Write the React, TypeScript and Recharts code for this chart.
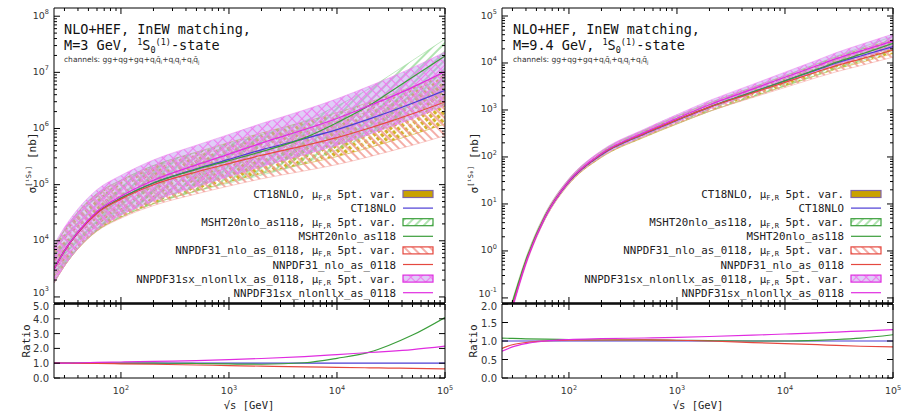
import React from 'react';
import { ComposedChart, Area, Line, XAxis, YAxis } from 'recharts';

// sqrt(s) grid in GeV, shared by both quarkonium masses
const energies = [24, 30, 40, 60, 100, 200, 500, 1000, 2000, 5000, 10000, 20000, 30000, 50000, 100000];

// ---- M = 3 GeV, sigma in nb ----
const ct18M3 = [3160, 6610, 14100, 31600, 57500, 107000, 191000, 282000, 417000, 661000, 955000, 1.48e6, 1.95e6, 2.82e6, 4.79e6];
const ct18LoM3 = [1780, 3550, 7240, 15100, 26300, 45700, 77600, 112000, 158000, 234000, 316000, 457000, 575000, 776000, 1.2e6];
const ct18HiM3 = [7590, 15500, 32400, 69200, 120000, 219000, 380000, 562000, 832000, 1.32e6, 1.91e6, 2.95e6, 3.89e6, 5.62e6, 9.55e6];

const mshtM3 = [3160, 6610, 14100, 31600, 57500, 107000, 187000, 268000, 388000, 681000, 1.27e6, 2.59e6, 4.29e6, 8.18e6, 1.96e7];
const mshtLoM3 = [1780, 3550, 7240, 15100, 26300, 45700, 76200, 107000, 148000, 242000, 421000, 800000, 1.27e6, 2.25e6, 4.92e6];
const mshtHiM3 = [7590, 15500, 32400, 69200, 120000, 219000, 373000, 535000, 774000, 1.36e6, 2.53e6, 5.17e6, 8.56e6, 1.63e7, 3.91e7];

const nnpdfM3 = [3160, 6610, 14000, 31000, 55200, 99500, 168000, 237000, 334000, 496000, 688000, 1.02e6, 1.31e6, 1.83e6, 2.97e6];
const nnpdfLoM3 = [1780, 3550, 7180, 14800, 25200, 42400, 68400, 94300, 127000, 176000, 228000, 315000, 387000, 504000, 746000];
const nnpdfHiM3 = [7580, 15500, 32100, 67800, 115000, 203000, 335000, 473000, 666000, 990000, 1.37e6, 2.03e6, 2.61e6, 3.65e6, 5.93e6];

const sxM3 = [3160, 6610, 14400, 33200, 62100, 120000, 225000, 350000, 550000, 958000, 1.51e6, 2.55e6, 3.51e6, 5.41e6, 1.03e7];
const sxLoM3 = [1780, 3550, 7380, 15900, 28400, 51200, 91600, 139000, 209000, 340000, 500000, 788000, 1.04e6, 1.49e6, 2.59e6];
const sxHiM3 = [8510, 17400, 37000, 81500, 146000, 275000, 504000, 784000, 1.23e6, 2.14e6, 3.38e6, 5.71e6, 7.86e6, 1.21e7, 2.31e7];

// ---- M = 9.4 GeV, sigma in nb ----
const ct18M94 = [0.0141, 0.0759, 0.603, 5.25, 29.5, 112, 309, 603, 1150, 2400, 4170, 7240, 10000, 14100, 22400];
const ct18LoM94 = [0.0126, 0.0676, 0.537, 4.68, 26.3, 97.6, 263, 502, 935, 1910, 3240, 5490, 7410, 10200, 15900];
const ct18HiM94 = [0.0158, 0.0852, 0.677, 5.89, 33.1, 129, 363, 725, 1410, 3020, 5370, 9540, 13500, 19500, 31700];

const mshtM94 = [0.0152, 0.0812, 0.639, 5.51, 30.7, 115, 318, 615, 1160, 2400, 4170, 7380, 10400, 15200, 26200];
const mshtLoM94 = [0.0135, 0.0724, 0.57, 4.91, 27.4, 100, 271, 512, 943, 1910, 3240, 5600, 7710, 11000, 18500];
const mshtHiM94 = [0.0171, 0.0911, 0.717, 6.18, 34.4, 132, 374, 739, 1430, 3020, 5370, 9730, 14000, 21000, 37000];

const nnpdfM94 = [0.0113, 0.0683, 0.579, 5.25, 30.1, 115, 318, 615, 1150, 2300, 3880, 6520, 8800, 12100, 18800];
const nnpdfLoM94 = [0.0101, 0.0609, 0.516, 4.68, 26.8, 100, 271, 512, 935, 1830, 3010, 4950, 6520, 8770, 13300];
const nnpdfHiM94 = [0.0127, 0.0766, 0.65, 5.89, 33.8, 132, 374, 739, 1410, 2900, 5000, 8590, 11900, 16700, 26600];

const sxM94 = [0.0102, 0.0638, 0.561, 5.25, 30.7, 119, 334, 663, 1290, 2780, 4960, 8830, 12400, 17900, 29300];
const sxLoM94 = [0.00909, 0.0569, 0.5, 4.68, 27.4, 104, 284, 552, 1050, 2210, 3850, 6700, 9190, 13000, 20700];
const sxHiM94 = [0.0114, 0.0716, 0.629, 5.89, 34.4, 137, 392, 797, 1590, 3500, 6390, 11600, 16700, 24700, 41400];

// axis ticks
const xDecades = [10, 100, 1000, 10000, 100000];
const yDecadesM3 = [1e3, 1e4, 1e5, 1e6, 1e7, 1e8];
const yDecadesM94 = [0.1, 1, 10, 100, 1000, 1e4, 1e5];
const ratioTicksM3 = [0, 1, 2, 3, 4, 5];
const ratioTicksM94 = [0, 0.5, 1, 1.5, 2];

const pdfNames = ['CT18NLO', 'MSHT20nlo_as118', 'NNPDF31_nlo_as_0118', 'NNPDF31sx_nlonllx_as_0118'];

const X_DOMAIN: [number, number] = [24, 100000];
const MONO = '"DejaVu Sans Mono", "Liberation Mono", monospace';
const SANS = '"DejaVu Sans", "Liberation Sans", sans-serif';
const TICK_MAJOR = 6;
const TICK_MINOR = 3;

const withMinors = (decades: number[], lo: number, hi: number) => {
  const out: number[] = [];
  decades.forEach((d) => {
    for (let k = 1; k <= 9; k++) {
      const v = +(d * k).toPrecision(6);
      if (v >= lo && v <= hi) out.push(v);
    }
  });
  return out;
};

interface PdfSet {
  key: string;
  central: number[];
  lo: number[];
  hi: number[];
  color: string;
  fill: string;
  edge: string;
}

const styles = [
  { key: 'ct18', color: '#4b3cd4', fill: 'url(#bandCT)', edge: '#c9a200' },
  { key: 'msht', color: '#3a9e3a', fill: 'url(#bandMSHT)', edge: '#86d486' },
  { key: 'nnpdf', color: '#e5483f', fill: 'url(#bandNNPDF)', edge: '#f29a92' },
  { key: 'sx', color: '#e02ce0', fill: 'url(#bandSX)', edge: '#ef7cef' },
];

const setsM3: PdfSet[] = [
  { ...styles[0], central: ct18M3, lo: ct18LoM3, hi: ct18HiM3 },
  { ...styles[1], central: mshtM3, lo: mshtLoM3, hi: mshtHiM3 },
  { ...styles[2], central: nnpdfM3, lo: nnpdfLoM3, hi: nnpdfHiM3 },
  { ...styles[3], central: sxM3, lo: sxLoM3, hi: sxHiM3 },
];

const setsM94: PdfSet[] = [
  { ...styles[0], central: ct18M94, lo: ct18LoM94, hi: ct18HiM94 },
  { ...styles[1], central: mshtM94, lo: mshtLoM94, hi: mshtHiM94 },
  { ...styles[2], central: nnpdfM94, lo: nnpdfLoM94, hi: nnpdfHiM94 },
  { ...styles[3], central: sxM94, lo: sxLoM94, hi: sxHiM94 },
];

const mainRows = (sets: PdfSet[]) =>
  energies.map((e, i) => {
    const row: Record<string, number | number[]> = { e };
    sets.forEach((s) => {
      row[s.key] = s.central[i];
      row[`${s.key}Band`] = [s.lo[i], s.hi[i]];
    });
    return row;
  });

// everything normalised to CT18NLO
const ratioRows = (sets: PdfSet[]) =>
  energies.map((e, i) => {
    const row: Record<string, number> = { e };
    sets.forEach((s) => {
      row[s.key] = s.central[i] / sets[0].central[i];
    });
    return row;
  });

const isDecade = (v: number) => Math.abs(Math.log10(v) - Math.round(Math.log10(v))) < 1e-6;

const Pow10 = ({ x, y, v, anchor }: { x: number; y: number; v: number; anchor: 'end' | 'middle' }) => (
  <text x={x} y={y} textAnchor={anchor} fontFamily={SANS} fontSize={9.5} fill="#333">
    10
    <tspan dy={-4.5} fontSize={6.5}>
      {Math.round(Math.log10(v))}
    </tspan>
  </text>
);

// the lowest decade label sits a little higher so it clears the ratio panel's top label
const logYTick = (side: 'left' | 'right', bottom: number) => (props: any) => {
  const { x, y, payload } = props;
  const major = isDecade(payload.value);
  const dir = side === 'left' ? 1 : -1;
  const dy = payload.value === bottom ? -1 : 2.5;
  return (
    <g>
      <line x1={x} y1={y} x2={x + dir * (major ? TICK_MAJOR : TICK_MINOR)} y2={y} stroke="#000" />
      {side === 'left' && major && <Pow10 x={x - 5} y={y + dy} v={payload.value} anchor="end" />}
    </g>
  );
};

const linYTick = (side: 'left' | 'right', top: number) => (props: any) => {
  const { x, y, payload } = props;
  const dir = side === 'left' ? 1 : -1;
  const dy = payload.value === top ? 6 : 4;
  return (
    <g>
      <line x1={x} y1={y} x2={x + dir * TICK_MAJOR} y2={y} stroke="#000" />
      {side === 'left' && (
        <text x={x - 5} y={y + dy} textAnchor="end" fontFamily={SANS} fontSize={10} fill="#333">
          {Number(payload.value).toFixed(1)}
        </text>
      )}
    </g>
  );
};

const xTick = (side: 'top' | 'bottom', labels: boolean) => (props: any) => {
  const { x, y, payload } = props;
  const major = isDecade(payload.value);
  const dir = side === 'bottom' ? -1 : 1;
  return (
    <g>
      <line x1={x} y1={y} x2={x} y2={y + dir * (major ? TICK_MAJOR : TICK_MINOR)} stroke="#000" />
      {labels && major && <Pow10 x={x} y={y + 16} v={payload.value} anchor="middle" />}
    </g>
  );
};

const xTicks = withMinors(xDecades, X_DOMAIN[0], X_DOMAIN[1]);
const frame = { stroke: '#000' };

interface PanelProps {
  left: number;
  sets: PdfSet[];
  yDomain: [number, number];
  yDecades: number[];
  ratioDomain: [number, number];
  ratioTicks: number[];
}

const Panel = ({ left, sets, yDomain, yDecades, ratioDomain, ratioTicks }: PanelProps) => {
  const yTicks = withMinors(yDecades, yDomain[0], yDomain[1]);
  const noMargin = { top: 0, right: 0, bottom: 0, left: 0 };
  const axisCommon = { tickLine: false, tickSize: 0, tickMargin: 0, interval: 0 as const, allowDataOverflow: true };
  const bottomDecade = yDecades[0];
  const topRatio = ratioTicks[ratioTicks.length - 1];
  return (
    <>
      <div style={{ position: 'absolute', left, top: 0 }}>
        <ComposedChart width={460} height={310} data={mainRows(sets)} margin={noMargin}>
          <XAxis xAxisId="b" dataKey="e" type="number" scale="log" domain={X_DOMAIN} ticks={xTicks} height={7}
            axisLine={{ stroke: '#000', strokeWidth: 1.5 }} tick={xTick('bottom', false)} {...axisCommon} />
          <XAxis xAxisId="t" orientation="top" dataKey="e" type="number" scale="log" domain={X_DOMAIN} ticks={xTicks}
            height={8} axisLine={frame} tick={xTick('top', false)} {...axisCommon} />
          <YAxis yAxisId="l" type="number" scale="log" domain={yDomain} ticks={yTicks} width={54}
            axisLine={frame} tick={logYTick('left', bottomDecade)} {...axisCommon} />
          <YAxis yAxisId="r" orientation="right" type="number" scale="log" domain={yDomain} ticks={yTicks} width={15}
            axisLine={frame} tick={logYTick('right', bottomDecade)} {...axisCommon} />
          {sets.map((s) => [
            <Area key={`${s.key}-band`} xAxisId="b" yAxisId="l" dataKey={`${s.key}Band`} type="monotone"
              fill={s.fill} fillOpacity={1} stroke={s.edge} strokeWidth={0.7} strokeOpacity={0.7}
              dot={false} activeDot={false} isAnimationActive={false} />,
            <Line key={s.key} xAxisId="b" yAxisId="l" dataKey={s.key} type="monotone" stroke={s.color}
              strokeWidth={1.2} dot={false} activeDot={false} isAnimationActive={false} />,
          ])}
        </ComposedChart>
      </div>
      <div style={{ position: 'absolute', left, top: 300 }}>
        <ComposedChart width={460} height={114} data={ratioRows(sets)} margin={noMargin}>
          <XAxis xAxisId="b" dataKey="e" type="number" scale="log" domain={X_DOMAIN} ticks={xTicks} height={36}
            axisLine={frame} tick={xTick('bottom', true)} {...axisCommon} />
          <XAxis xAxisId="t" orientation="top" dataKey="e" type="number" scale="log" domain={X_DOMAIN} ticks={xTicks}
            height={4} axisLine={{ stroke: '#000', strokeWidth: 1.5 }} tick={xTick('top', false)} {...axisCommon} />
          <YAxis yAxisId="l" type="number" domain={ratioDomain} ticks={ratioTicks} width={54}
            axisLine={frame} tick={linYTick('left', topRatio)} {...axisCommon} />
          <YAxis yAxisId="r" orientation="right" type="number" domain={ratioDomain} ticks={ratioTicks} width={15}
            axisLine={frame} tick={linYTick('right', topRatio)} {...axisCommon} />
          {sets.map((s) => (
            <Line key={s.key} xAxisId="b" yAxisId="l" dataKey={s.key} type="monotone" stroke={s.color}
              strokeWidth={1.2} dot={false} activeDot={false} isAnimationActive={false} />
          ))}
        </ComposedChart>
      </div>
    </>
  );
};

const Legend = ({ right }: { right: number }) => {
  const textX = right - 49;
  const sx0 = right - 42;
  const sw = 30;
  const rows: React.ReactNode[] = [];
  styles.forEach((s, i) => {
    const yb = 194 + i * 28.2;
    const yl = yb + 14.1;
    rows.push(
      <g key={`${s.key}-b`}>
        <text x={textX} y={yb + 4} textAnchor="end" fontFamily={MONO} fontSize={10.8} fill="#222">
          {pdfNames[i]}, μ
          <tspan dy={2} fontSize={7}>F,R</tspan>
          <tspan dy={-2}> 5pt. var.</tspan>
        </text>
        <rect x={sx0} y={yb - 3.5} width={sw} height={7}
          fill={i === 0 ? '#c9a200' : s.fill} stroke={i === 0 ? '#8066a6' : s.color} strokeWidth={1.2} />
      </g>,
      <g key={`${s.key}-l`}>
        <text x={textX} y={yl + 4} textAnchor="end" fontFamily={MONO} fontSize={10.8} fill="#222">
          {pdfNames[i]}
        </text>
        <line x1={sx0} x2={sx0 + sw} y1={yl} y2={yl} stroke={s.color} strokeWidth={1.2} />
      </g>
    );
  });
  return <g>{rows}</g>;
};

const Titles = ({ x, mass }: { x: number; mass: string }) => (
  <g fill="#111">
    <text x={x} y={34} fontFamily={MONO} fontSize={13.5}>NLO+HEF, InEW matching,</text>
    <text x={x} y={50} fontFamily={MONO} fontSize={13.5}>
      M={mass} GeV, <tspan dy={-5} fontSize={8.5}>1</tspan>
      <tspan dy={5}>S</tspan>
      <tspan dy={3} fontSize={8.5}>0</tspan>
      <tspan dy={-8} fontSize={8.5}>(1)</tspan>
      <tspan dy={5}>-state</tspan>
    </text>
    <text x={x} y={62} fontFamily={SANS} fontSize={7.5} fill="#333">
      channels: gg+qg+gq+q<tspan dy={1.5} fontSize={5}>i</tspan>
      <tspan dy={-1.5}>q̄</tspan><tspan dy={1.5} fontSize={5}>i</tspan>
      <tspan dy={-1.5}>+q</tspan><tspan dy={1.5} fontSize={5}>i</tspan>
      <tspan dy={-1.5}>q</tspan><tspan dy={1.5} fontSize={5}>j</tspan>
      <tspan dy={-1.5}>+q</tspan><tspan dy={1.5} fontSize={5}>i</tspan>
      <tspan dy={-1.5}>q̄</tspan><tspan dy={1.5} fontSize={5}>j</tspan>
    </text>
  </g>
);

const AxisTitles = ({ sigmaX, ratioX, centerX }: { sigmaX: number; ratioX: number; centerX: number }) => (
  <g fill="#222" fontFamily={MONO}>
    <text transform={`translate(${sigmaX},163) rotate(-90)`} textAnchor="middle" fontSize={11}>
      σ<tspan dy={-5} fontSize={7}>[¹S₀]</tspan>
      <tspan dy={5}> [nb]</tspan>
    </text>
    <text transform={`translate(${ratioX},341) rotate(-90)`} textAnchor="middle" fontSize={11}>Ratio</text>
    <text x={centerX} y={409} textAnchor="middle" fontSize={10.5}>√s [GeV]</text>
  </g>
);

export default function App() {
  return (
    <div style={{ position: 'absolute', left: 0, top: 0, width: 914, height: 414, background: '#fff', overflow: 'hidden' }}>
      <svg width={0} height={0} style={{ position: 'absolute' }}>
        <defs>
          <pattern id="bandCT" width={5.5} height={5.5} patternUnits="userSpaceOnUse" patternTransform="rotate(-40)">
            <rect x={1} y={0.8} width={3} height={3.8} fill="#c9a200" fillOpacity={0.85} />
          </pattern>
          <pattern id="bandMSHT" width={6} height={6} patternUnits="userSpaceOnUse" patternTransform="rotate(45)">
            <line x1={3} y1={0} x2={3} y2={6} stroke="#86d486" strokeWidth={1.3} />
          </pattern>
          <pattern id="bandNNPDF" width={6} height={6} patternUnits="userSpaceOnUse" patternTransform="rotate(-45)">
            <line x1={3} y1={0} x2={3} y2={6} stroke="#f29a92" strokeWidth={1.6} />
          </pattern>
          <pattern id="bandSX" width={7} height={7} patternUnits="userSpaceOnUse" patternTransform="rotate(45)">
            <rect width={7} height={7} fill="#b890ee" fillOpacity={0.45} />
            <line x1={3.5} y1={0} x2={3.5} y2={7} stroke="#ef7cef" strokeWidth={1.1} />
            <line x1={0} y1={3.5} x2={7} y2={3.5} stroke="#ef7cef" strokeWidth={1.1} />
          </pattern>
        </defs>
      </svg>
      <Panel left={0} sets={setsM3} yDomain={[780, 1.4e8]} yDecades={yDecadesM3} ratioDomain={[0, 5]} ratioTicks={ratioTicksM3} />
      <Panel left={448} sets={setsM94} yDomain={[0.078, 1.48e5]} yDecades={yDecadesM94} ratioDomain={[0, 2]} ratioTicks={ratioTicksM94} />
      <svg width={914} height={414} style={{ position: 'absolute', left: 0, top: 0, pointerEvents: 'none' }}>
        <Titles x={64} mass="3" />
        <Titles x={513} mass="9.4" />
        <Legend right={445} />
        <Legend right={893} />
        <AxisTitles sigmaX={36} ratioX={30} centerX={249} />
        <AxisTitles sigmaX={478} ratioX={477} centerX={698} />
      </svg>
    </div>
  );
}
